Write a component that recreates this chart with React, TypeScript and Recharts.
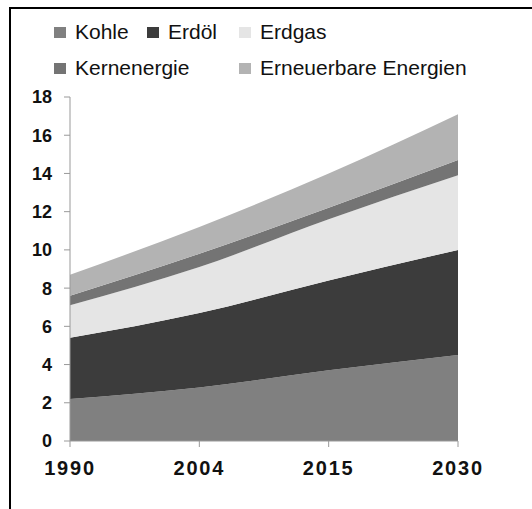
import { Area, AreaChart, XAxis, YAxis } from "recharts";

const years = ["1990", "2004", "2015", "2030"];
const kohle = [2.2, 2.8, 3.7, 4.5];
const erdoel = [3.2, 3.9, 4.7, 5.5];
const erdgas = [1.7, 2.4, 3.2, 3.9];
const kernenergie = [0.5, 0.7, 0.6, 0.8];
const erneuerbare = [1.1, 1.4, 1.8, 2.4];
const yTicks = [0, 2, 4, 6, 8, 10, 12, 14, 16, 18];

const series = [
  { key: "kohle", name: "Kohle", values: kohle, color: "#808080" },
  { key: "erdoel", name: "Erdöl", values: erdoel, color: "#3c3c3c" },
  { key: "erdgas", name: "Erdgas", values: erdgas, color: "#e5e5e5" },
  { key: "kern", name: "Kernenergie", values: kernenergie, color: "#747474" },
  { key: "ern", name: "Erneuerbare Energien", values: erneuerbare, color: "#b3b3b3" },
];

const data = years.map((year, i) => {
  const row: Record<string, string | number> = { year };
  series.forEach((s) => {
    row[s.key] = s.values[i];
  });
  return row;
});

// legend slots: [left, top] for each series
const legendPos: [number, number][] = [
  [54, 20],
  [147, 20],
  [239, 20],
  [54, 56],
  [239, 56],
];

const font = "'Liberation Sans', Arial, sans-serif";

const Legend = () => (
  <>
    {series.map((s, i) => (
      <div
        key={s.key}
        style={{
          position: "absolute",
          left: legendPos[i][0],
          top: legendPos[i][1],
          display: "flex",
          alignItems: "center",
          fontFamily: font,
          fontSize: 21,
          color: "#111",
          whiteSpace: "nowrap",
        }}
      >
        <span
          style={{
            display: "inline-block",
            width: 12,
            height: 11,
            background: s.color,
            marginRight: 9,
          }}
        />
        {s.name}
      </div>
    ))}
  </>
);

export default function App() {
  return (
    <div
      style={{
        position: "absolute",
        left: 0,
        top: 0,
        width: 532,
        height: 509,
        background: "#fff",
        overflow: "hidden",
      }}
    >
      <div
        style={{
          position: "absolute",
          left: 9,
          top: 7,
          width: 540,
          height: 520,
          borderLeft: "2px solid #000",
          borderTop: "2px solid #000",
        }}
      />
      <Legend />
      <div style={{ position: "absolute", left: 0, top: 0 }}>
        <AreaChart
          width={532}
          height={509}
          data={data}
          margin={{ top: 97, right: 74, bottom: 28, left: 10 }}
        >
          <XAxis
            dataKey="year"
            height={40}
            stroke="#999"
            tickSize={6}
            tickMargin={14}
            tick={{
              fill: "#111",
              fontFamily: font,
              fontSize: 20,
              fontWeight: "bold",
              letterSpacing: 1.8,
            }}
          />
          <YAxis
            width={60}
            domain={[0, 18]}
            ticks={yTicks}
            interval={0}
            stroke="#999"
            tickSize={6}
            tickMargin={12}
            tick={{
              fill: "#111",
              fontFamily: font,
              fontSize: 18,
              fontWeight: "bold",
            }}
          />
          {series.map((s) => (
            <Area
              key={s.key}
              dataKey={s.key}
              name={s.name}
              stackId="1"
              type="monotone"
              fill={s.color}
              fillOpacity={1}
              stroke="none"
              isAnimationActive={false}
            />
          ))}
        </AreaChart>
      </div>
    </div>
  );
}
